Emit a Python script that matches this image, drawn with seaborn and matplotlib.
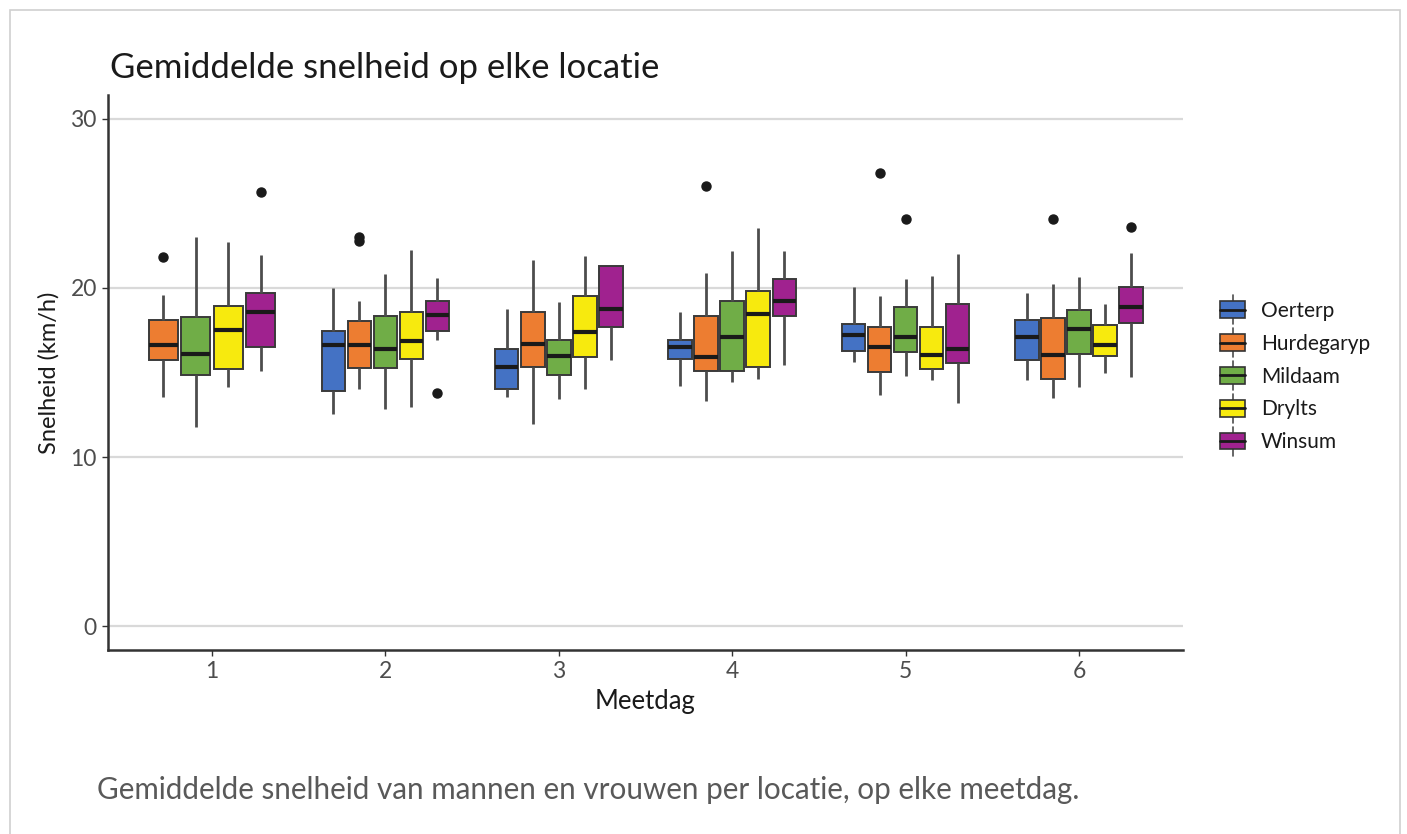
import numpy as np
import pandas as pd
import matplotlib
matplotlib.use("Agg")
import matplotlib.pyplot as plt
from matplotlib.patches import Rectangle
from matplotlib.lines import Line2D
from matplotlib.legend_handler import HandlerBase
import seaborn as sns

# ---------------- data ----------------
days = ["1", "2", "3", "4", "5", "6"]
locations = ["Oerterp", "Hurdegaryp", "Mildaam", "Drylts", "Winsum"]
colors = ["#4472C4", "#ED7D31", "#70AD47", "#F7EA0E", "#A0228F"]

# per location, one value per Meetdag (None = no measurement)
whis_low = {
    "Oerterp":    [None, 12.54, 13.57, 14.22, 15.60, 14.56],
    "Hurdegaryp": [13.53, 14.00, 11.95, 13.33, 13.67, 13.47],
    "Mildaam":    [11.80, 12.84, 13.41, 14.46, 14.81, 14.12],
    "Drylts":     [14.16, 12.94, 14.00, 14.62, 14.56, 14.95],
    "Winsum":     [15.09, 16.92, 15.74, 15.44, 13.18, 14.72],
}
quart1 = {
    "Oerterp":    [None, 13.92, 14.00, 15.78, 16.27, 15.74],
    "Hurdegaryp": [15.74, 15.29, 15.35, 15.09, 15.05, 14.60],
    "Mildaam":    [14.85, 15.29, 14.85, 15.09, 16.23, 16.09],
    "Drylts":     [15.19, 15.78, 15.90, 15.30, 15.21, 15.99],
    "Winsum":     [16.49, 17.46, 17.67, 18.36, 15.58, 17.91],
}
median = {
    "Oerterp":    [None, 16.63, 15.35, 16.49, 17.22, 17.08],
    "Hurdegaryp": [16.63, 16.63, 16.69, 15.89, 16.49, 16.04],
    "Mildaam":    [16.07, 16.39, 16.00, 17.08, 17.12, 17.57],
    "Drylts":     [17.51, 16.88, 17.42, 18.46, 16.04, 16.63],
    "Winsum":     [18.60, 18.40, 18.76, 19.23, 16.37, 18.85],
}
quart3 = {
    "Oerterp":    [None, 17.48, 16.37, 16.92, 17.87, 18.11],
    "Hurdegaryp": [18.10, 18.02, 18.60, 18.36, 17.67, 18.20],
    "Mildaam":    [18.30, 18.36, 16.92, 19.25, 18.86, 18.70],
    "Drylts":     [18.95, 18.56, 19.53, 19.82, 17.67, 17.81],
    "Winsum":     [19.69, 19.25, 21.30, 20.53, 19.03, 20.08],
}
whis_high = {
    "Oerterp":    [None, 19.98, 18.76, 18.58, 20.08, 19.69],
    "Hurdegaryp": [19.59, 19.25, 21.66, 20.87, 19.55, 20.22],
    "Mildaam":    [23.04, 20.81, 19.15, 22.19, 20.53, 20.63],
    "Drylts":     [22.70, 22.25, 21.89, 23.57, 20.73, 19.05],
    "Winsum":     [21.93, 20.57, 21.30, 22.21, 21.99, 22.05],
}
outliers = {
    "Oerterp":    [[], [], [], [], [], []],
    "Hurdegaryp": [[21.85], [22.80, 23.00], [], [26.04], [26.83], [24.06]],
    "Mildaam":    [[], [], [], [], [24.06], []],
    "Drylts":     [[], [], [], [], [], []],
    "Winsum":     [[25.70], [13.77], [], [], [], [23.63]],
}

# ---------------- long-form table built from the summaries ----------------
rows = []
for loc in locations:
    for i, day in enumerate(days):
        if median[loc][i] is None:
            continue
        vals = ([whis_low[loc][i]] + [quart1[loc][i]] * 4 + [median[loc][i]] * 4
                + [quart3[loc][i]] * 4 + [whis_high[loc][i]] + outliers[loc][i])
        for v in vals:
            rows.append({"Meetdag": day, "Locatie": loc, "Snelheid": v})
df = pd.DataFrame(rows)
palette = dict(zip(locations, colors))

# ---------------- figure ----------------
sns.set_theme(style="white")
plt.rcParams["font.family"] = ["Lato", "DejaVu Sans"]

fig = plt.figure(figsize=(14.07, 8.34), dpi=100)
ax = fig.add_axes([108 / 1407, 1 - 650 / 834, (1183 - 108) / 1407, (650 - 95) / 834])

box_kw = dict(
    x="Meetdag", y="Snelheid", hue="Locatie", order=days, palette=palette,
    width=0.75, gap=0.1, saturation=1, linecolor="#3a3a3a", linewidth=1.4,
    whis=1.5, legend=False, ax=ax,
    medianprops=dict(color="#1a1a1a", linewidth=3),
    flierprops=dict(marker="o", markerfacecolor="#1a1a1a", markeredgecolor="#1a1a1a",
                    markersize=6.5),
    whiskerprops=dict(linewidth=2, color="#4d4d4d"),
    capprops=dict(linewidth=0),
)
present_day1 = [l for l in locations if median[l][0] is not None]
sns.boxplot(data=df[df["Meetdag"] == days[0]], hue_order=present_day1, **box_kw)
sns.boxplot(data=df[df["Meetdag"] != days[0]], hue_order=locations, **box_kw)

ax.set_xlim(-0.6, 5.6)
ax.set_ylim(-1.42, 31.42)
ax.set_yticks([0, 10, 20, 30])
ax.yaxis.grid(True, color="#d9d9d9", linewidth=1.6)
ax.xaxis.grid(False)
ax.set_axisbelow(True)
for s in ["top", "right"]:
    ax.spines[s].set_visible(False)
for s in ["left", "bottom"]:
    ax.spines[s].set_color("#333333")
    ax.spines[s].set_linewidth(1.8)
ax.tick_params(axis="both", which="both", length=4, width=1, color="#333333",
               labelcolor="#4d4d4d", labelsize=16.5, bottom=True, left=True, pad=4)
ax.set_xlabel("Meetdag", fontsize=18.5, color="#1a1a1a", labelpad=5)
ax.set_ylabel("Snelheid (km/h)", fontsize=17, color="#1a1a1a", labelpad=8)


# ---------------- legend with ggplot-like box keys ----------------
class BoxKeyHandler(HandlerBase):
    def create_artists(self, legend, orig_handle, xdescent, ydescent, width, height,
                       fontsize, trans):
        fc = orig_handle.get_facecolor()
        cx = width / 2 - xdescent
        x0 = -xdescent + width * 0.1
        w = width * 0.8
        y0 = -ydescent + height * 0.1
        h = height * 0.8
        whisk = Line2D([cx, cx], [y0 - height * 0.3, y0 + h + height * 0.3],
                       color="#4d4d4d", lw=1.2, transform=trans)
        rect = Rectangle((x0, y0), w, h, facecolor=fc, edgecolor="#333333", lw=1.2,
                         transform=trans)
        med = Line2D([x0, x0 + w], [y0 + h / 2, y0 + h / 2], color="#1a1a1a", lw=2,
                     transform=trans)
        return [whisk, rect, med]


handles = [Rectangle((0, 0), 1, 1, facecolor=c) for c in colors]
leg = ax.legend(handles, locations, handler_map={Rectangle: BoxKeyHandler()},
                loc="center left", bbox_to_anchor=(1.018, 0.494), frameon=False,
                fontsize=15, handlelength=1.5, handleheight=1.15, labelspacing=0.55,
                handletextpad=0.6, borderpad=0.2)
for t in leg.get_texts():
    t.set_color("#1a1a1a")

# ---------------- texts and frame ----------------
fig.text(110 / 1407, 1 - 68 / 834, "Gemiddelde snelheid op elke locatie",
         fontsize=25, color="#1a1a1a", va="center", ha="left")
fig.text(97 / 1407, 1 - 790 / 834,
         "Gemiddelde snelheid van mannen en vrouwen per locatie, op elke meetdag.",
         fontsize=21.3, color="#595959", va="center", ha="left")
fig.patches.append(Rectangle((10 / 1407, -0.05), (1400 - 10) / 1407, 1.05 - 10 / 834,
                             transform=fig.transFigure, fill=False,
                             edgecolor="#d0d0d0", linewidth=1.2))

fig.savefig("out.png", dpi=100)
